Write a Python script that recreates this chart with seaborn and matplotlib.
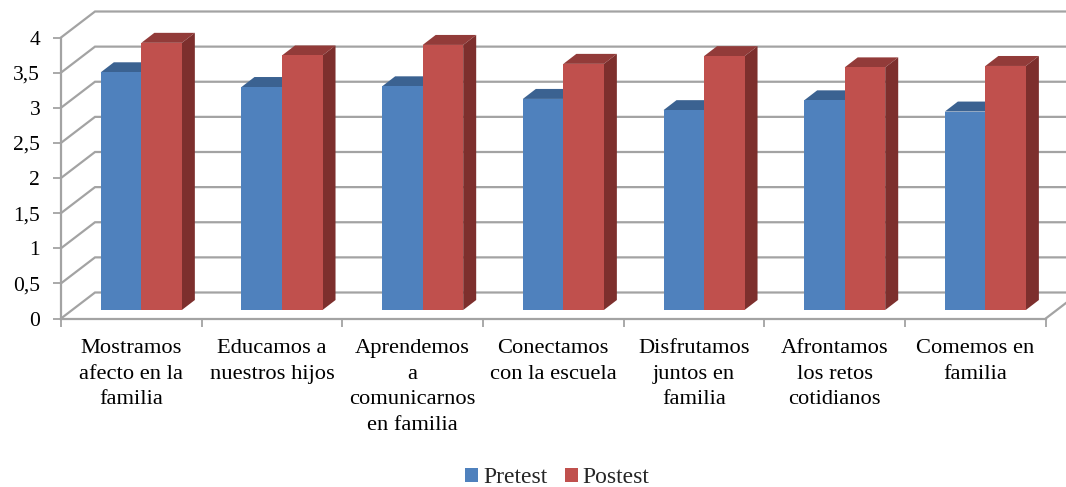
# excel style 3d bars, pretest vs postest per family dimension
import numpy as np
import pandas as pd
import matplotlib
matplotlib.use("Agg")
import matplotlib.pyplot as plt
from matplotlib.patches import Polygon
import seaborn as sns

CATEGORIES = [
    "Mostramos\nafecto en la\nfamilia",
    "Educamos a\nnuestros hijos",
    "Aprendemos\na\ncomunicarnos\nen familia",
    "Conectamos\ncon la escuela",
    "Disfrutamos\njuntos en\nfamilia",
    "Afrontamos\nlos retos\ncotidianos",
    "Comemos en\nfamilia",
]
PRETEST = [3.39, 3.18, 3.19, 3.01, 2.85, 2.99, 2.83]
POSTEST = [3.81, 3.63, 3.78, 3.51, 3.62, 3.46, 3.48]
Y_TICKS = [0, 0.5, 1, 1.5, 2, 2.5, 3, 3.5, 4]
Y_LABELS = ["0", "0,5", "1", "1,5", "2", "2,5", "3", "3,5", "4"]

W, H = 1066, 487
GRAY = "#a3a3a3"
FACES = {
    "Pretest": ("#4f81bd", "#3b6291", "#3a6190"),
    "Postest": ("#c0504d", "#923b39", "#7d2f2d"),
}


def px_axes(fig, left, top, right, bottom):
    return fig.add_axes([left / W, 1 - bottom / H, (right - left) / W, (bottom - top) / H])


def main():
    sns.set_theme(style="ticks")
    plt.rcParams["font.family"] = ["Liberation Serif", "DejaVu Serif"]

    fig = plt.figure(figsize=(W / 100, H / 100), dpi=100)
    ax = px_axes(fig, 61, 37.5, 1045.7, 318.5)
    bars = px_axes(fig, 71, 29.5, 1055.7, 310)

    # pixels per data unit, same for both axes
    ux = (1045.7 - 61) / 7
    uy = 281 / 4

    # walls
    ax.set_xlim(-0.5, 6.5)
    ax.set_ylim(0, 4)
    back_x, back_y = 34 / ux, 26 / uy
    for v in Y_TICKS:
        ax.plot([-0.5, -0.5 + back_x, 7.5], [v, v + back_y, v + back_y],
                color=GRAY, lw=1.6, clip_on=False, zorder=1, solid_joinstyle="miter")
    ax.plot([6.5, 6.5 + back_x], [0, back_y], color=GRAY, lw=1.6, clip_on=False, zorder=1)

    sns.despine(ax=ax)
    for side in ["left", "bottom"]:
        ax.spines[side].set_color(GRAY)
        ax.spines[side].set_linewidth(1.6)
    ax.set_yticks(Y_TICKS, Y_LABELS, fontsize=15.5, color="black")
    ax.set_xticks(np.arange(-0.5, 7, 1), [""] * 8)
    ax.set_xticks(np.arange(7), CATEGORIES, minor=True, fontsize=16.2, color="black",
                  linespacing=1.47, ha="center")
    ax.tick_params(axis="both", which="major", color=GRAY, width=1.3, length=5.5)
    ax.tick_params(axis="y", pad=9.5)
    ax.tick_params(axis="x", which="minor", length=0, pad=15)

    # bars
    df = pd.DataFrame({
        "dimension": CATEGORIES * 2,
        "score": PRETEST + POSTEST,
        "test": ["Pretest"] * 7 + ["Postest"] * 7,
    })
    sns.barplot(data=df, x="dimension", y="score", hue="test", ax=bars, width=0.576, gap=0,
                saturation=1, linewidth=0,
                palette={k: v[0] for k, v in FACES.items()})
    bars.set_xlim(-0.5, 6.5)
    bars.set_ylim(0, 4)

    # top and side faces pulled from the bars seaborn drew
    dx, dy = 13 / ux, 10 / uy
    for name, container in zip(["Pretest", "Postest"], bars.containers):
        _, top_col, side_col = FACES[name]
        for rect in container:
            x0, w, h = rect.get_x(), rect.get_width(), rect.get_height()
            x1 = x0 + w
            top = [(x0, h), (x1, h), (x1 + dx, h + dy), (x0 + dx, h + dy)]
            side = [(x1, 0), (x1 + dx, dy), (x1 + dx, h + dy), (x1, h)]
            bars.add_patch(Polygon(top, fc=top_col, lw=0, zorder=0.6, clip_on=False))
            bars.add_patch(Polygon(side, fc=side_col, lw=0, zorder=0.7, clip_on=False))

    bars.set_axis_off()
    bars.patch.set_alpha(0)

    sns.move_legend(bars, "center", bbox_to_anchor=(557.5 / W, 1 - 477.8 / H),
                    bbox_transform=fig.transFigure, ncols=2, frameon=False, title=None,
                    fontsize=17, handlelength=0.55, handleheight=0.55,
                    handletextpad=0.2, columnspacing=0.75)

    fig.savefig("out.png", dpi=100)
    plt.close(fig)


if __name__ == "__main__":
    main()
